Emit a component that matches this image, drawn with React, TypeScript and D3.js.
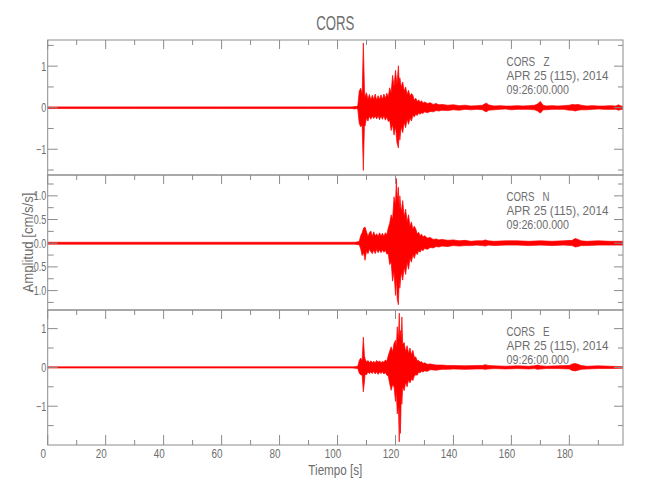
import React from "react";
import * as d3 from "d3";

// ---------- data ----------
// each entry: [time (s), upper envelope, lower envelope] in cm/s/s
const zTrace: [number, number, number][] = [
  [0, 0.02, -0.02], [30, 0.02, -0.02], [60, 0.02, -0.02], [90, 0.02, -0.02], [105, 0.02, -0.02],
  [106, 0.03, -0.03], [106.5, 0.03, -0.02], [107, 0.05, -0.04], [107.5, 0.4, -0.38], [108, 0.47, -0.46],
  [108.5, 0.33, -0.42], [108.9, 1.56, -1.51], [109.3, 0.44, -0.4], [109.5, 0.26, -0.44], [110, 0.36, -0.24],
  [110.5, 0.2, -0.32], [111, 0.32, -0.2], [111.5, 0.19, -0.28], [112, 0.3, -0.2], [112.5, 0.2, -0.26],
  [113, 0.33, -0.2], [113.5, 0.18, -0.27], [114, 0.29, -0.19], [114.5, 0.2, -0.29], [115, 0.31, -0.2],
  [115.5, 0.2, -0.28], [116, 0.33, -0.19], [116.5, 0.22, -0.3], [117, 0.35, -0.22], [117.5, 0.26, -0.33],
  [118, 0.48, -0.3], [118.5, 0.36, -0.55], [119, 0.78, -0.4], [119.5, 0.5, -0.66], [120, 0.9, -0.45],
  [120.5, 0.55, -0.84], [121, 1.01, -0.97], [121.3, 0.6, -0.6], [121.5, 0.72, -0.78], [122, 0.5, -0.45],
  [122.5, 0.62, -0.6], [123, 0.4, -0.35], [123.5, 0.5, -0.48], [124, 0.32, -0.28], [124.5, 0.42, -0.4],
  [125, 0.28, -0.25], [125.5, 0.34, -0.32], [126, 0.3, -0.19], [126.5, 0.18, -0.22], [127, 0.23, -0.16],
  [127.5, 0.15, -0.19], [128, 0.19, -0.13], [128.5, 0.13, -0.16], [129, 0.17, -0.12], [129.5, 0.11, -0.14],
  [130, 0.14, -0.1], [131, 0.1, -0.12], [132, 0.12, -0.09], [133, 0.08, -0.1], [134, 0.1, -0.07],
  [135, 0.07, -0.08], [136, 0.08, -0.06], [138, 0.06, -0.07], [140, 0.07, -0.05], [142, 0.05, -0.06],
  [144, 0.06, -0.04], [146, 0.04, -0.05], [148, 0.05, -0.04], [150, 0.06, -0.05], [151, 0.1, -0.09],
  [151.5, 0.11, -0.1], [152, 0.07, -0.06], [154, 0.04, -0.05], [156, 0.05, -0.04], [158, 0.04, -0.03],
  [160, 0.04, -0.05], [162, 0.05, -0.04], [164, 0.04, -0.04], [166, 0.05, -0.04], [168, 0.06, -0.05],
  [169, 0.09, -0.08], [170, 0.15, -0.13], [170.5, 0.1, -0.09], [171, 0.06, -0.05], [172, 0.04, -0.05],
  [174, 0.05, -0.04], [176, 0.04, -0.04], [178, 0.05, -0.04], [180, 0.06, -0.06], [181, 0.08, -0.06],
  [182, 0.07, -0.08], [183, 0.08, -0.06], [184, 0.06, -0.05], [186, 0.04, -0.05], [188, 0.05, -0.04],
  [190, 0.04, -0.03], [192, 0.04, -0.04], [194, 0.05, -0.04], [196, 0.04, -0.04], [197, 0.07, -0.06],
  [197.5, 0.05, -0.05], [198.5, 0.03, -0.03],
];

const nTrace: [number, number, number][] = [
  [0, 0.02, -0.02], [30, 0.02, -0.02], [60, 0.02, -0.02], [90, 0.02, -0.02], [105, 0.02, -0.02],
  [106, 0.02, -0.02], [107, 0.03, -0.03], [107.5, 0.04, -0.03], [108, 0.16, -0.12], [108.5, 0.22, -0.26],
  [109, 0.32, -0.2], [109.5, 0.34, -0.36], [110, 0.24, -0.16], [110.5, 0.14, -0.22], [111, 0.22, -0.13],
  [111.5, 0.26, -0.18], [112, 0.14, -0.22], [112.5, 0.24, -0.14], [113, 0.15, -0.22], [113.5, 0.2, -0.13],
  [114, 0.14, -0.2], [114.5, 0.22, -0.14], [115, 0.15, -0.2], [115.5, 0.21, -0.14], [116, 0.14, -0.19],
  [116.5, 0.22, -0.15], [117, 0.18, -0.23], [117.5, 0.32, -0.22], [118, 0.42, -0.45], [118.5, 0.6, -0.4],
  [119, 0.5, -0.8], [119.5, 0.98, -0.6], [120, 0.8, -1.1], [120.3, 1.37, -0.7], [120.6, 0.9, -1.18],
  [121, 1.18, -1.3], [121.3, 0.7, -0.75], [121.5, 1.0, -0.95], [122, 0.65, -0.6], [122.5, 0.9, -0.78],
  [123, 0.55, -0.5], [123.5, 0.72, -0.66], [124, 0.45, -0.4], [124.5, 0.6, -0.55], [125, 0.36, -0.32],
  [125.5, 0.45, -0.4], [126, 0.3, -0.24], [126.5, 0.36, -0.32], [127, 0.3, -0.2], [127.5, 0.2, -0.24],
  [128, 0.23, -0.16], [128.5, 0.16, -0.19], [129, 0.19, -0.13], [129.5, 0.13, -0.16], [130, 0.16, -0.11],
  [131, 0.11, -0.13], [132, 0.12, -0.09], [133, 0.08, -0.1], [134, 0.09, -0.07], [135, 0.07, -0.08],
  [136, 0.08, -0.06], [138, 0.06, -0.07], [140, 0.07, -0.05], [142, 0.05, -0.06], [144, 0.06, -0.05],
  [146, 0.04, -0.05], [148, 0.05, -0.04], [150, 0.05, -0.05], [151, 0.07, -0.06], [152, 0.05, -0.04],
  [154, 0.04, -0.05], [158, 0.05, -0.04], [162, 0.05, -0.04], [166, 0.04, -0.05], [170, 0.05, -0.04],
  [174, 0.04, -0.05], [178, 0.05, -0.04], [181, 0.06, -0.05], [182, 0.1, -0.08], [183, 0.08, -0.07],
  [184, 0.05, -0.05], [186, 0.04, -0.05], [190, 0.05, -0.04], [194, 0.04, -0.04], [198.5, 0.04, -0.04],
];

const eTrace: [number, number, number][] = [
  [0, 0.015, -0.015], [30, 0.015, -0.015], [60, 0.015, -0.015], [90, 0.015, -0.015], [105, 0.015, -0.015],
  [106, 0.02, -0.02], [107, 0.03, -0.03], [107.5, 0.18, -0.15], [108, 0.24, -0.19], [108.5, 0.18, -0.2],
  [108.9, 0.78, -0.63], [109.3, 0.3, -0.36], [109.5, 0.22, -0.18], [110, 0.14, -0.19], [110.5, 0.18, -0.12],
  [111, 0.12, -0.16], [111.5, 0.17, -0.11], [112, 0.12, -0.16], [112.5, 0.16, -0.1], [113, 0.12, -0.17],
  [113.5, 0.18, -0.11], [114, 0.13, -0.18], [114.5, 0.17, -0.12], [115, 0.12, -0.16], [115.5, 0.16, -0.11],
  [116, 0.13, -0.17], [116.5, 0.19, -0.13], [117, 0.16, -0.2], [117.5, 0.3, -0.22], [118, 0.42, -0.42],
  [118.5, 0.53, -0.59], [119, 0.4, -0.45], [119.5, 0.62, -0.5], [120, 0.7, -0.88], [120.3, 0.5, -0.6],
  [120.6, 1.05, -1.2], [121, 0.7, -1.0], [121.3, 1.4, -1.92], [121.5, 0.8, -1.0], [121.7, 0.95, -1.7],
  [122, 0.7, -0.7], [122.2, 1.3, -0.95], [122.5, 0.6, -0.5], [123, 0.64, -0.6], [123.5, 0.4, -0.38],
  [124, 0.56, -0.5], [124.5, 0.36, -0.32], [125, 0.5, -0.4], [125.5, 0.32, -0.3], [126, 0.44, -0.34],
  [126.5, 0.26, -0.22], [127, 0.27, -0.19], [127.5, 0.17, -0.2], [128, 0.18, -0.12], [128.5, 0.13, -0.14],
  [129, 0.15, -0.1], [129.5, 0.1, -0.12], [130, 0.12, -0.09], [131, 0.08, -0.1], [132, 0.09, -0.06],
  [134, 0.06, -0.07], [136, 0.06, -0.05], [138, 0.05, -0.05], [140, 0.05, -0.04], [144, 0.04, -0.05],
  [148, 0.05, -0.04], [150, 0.05, -0.04], [151, 0.07, -0.05], [152, 0.05, -0.04], [154, 0.04, -0.03],
  [158, 0.03, -0.04], [162, 0.04, -0.03], [166, 0.03, -0.04], [168, 0.04, -0.03], [169, 0.06, -0.05],
  [170, 0.04, -0.04], [172, 0.03, -0.03], [176, 0.04, -0.03], [180, 0.05, -0.04], [181, 0.09, -0.08],
  [182, 0.1, -0.09], [183, 0.08, -0.07], [184, 0.05, -0.05], [186, 0.03, -0.04], [190, 0.04, -0.03],
  [194, 0.03, -0.03], [198.5, 0.02, -0.02],
];

const componentNames = ["Z", "N", "E"];
const stationName = "CORS";
const dateLine = "APR 25 (115), 2014";
const timeLine = "09:26:00.000";
const xTickValues = [0, 20, 40, 60, 80, 100, 120, 140, 160, 180];
const xMinorValues = [10, 30, 50, 70, 90, 110, 130, 150, 170, 190];
const panelYMajor = [
  [-1, 0, 1],
  [-1.0, -0.5, 0.0, 0.5, 1.0],
  [-1, 0, 1],
];
const panelYMinor = [
  [-1.5, -0.5, 0.5, 1.5],
  [-1.25, -0.75, -0.25, 0.25, 0.75, 1.25],
  [-1.5, -0.5, 0.5],
];
const panelYDomain: [number, number][] = [
  [-1.62, 1.63],
  [-1.41, 1.44],
  [-2.0, 1.48],
];
const xLabel = "Tiempo [s]";
const yLabel = "Amplitud [cm/s/s]";

// ---------- layout ----------
const LEFT = 47.7;
const RIGHT = 623;
const TOP = 40;
const PANEL_H = 135;
const AXIS = "#8c8c8c";
const TEXT = "#6e6e6e";
const FONT = "'Liberation Sans', Arial, sans-serif";

const traces = [zTrace, nTrace, eTrace];

type CTProps = {
  x: number;
  y: number;
  size: number;
  sx?: number;
  anchor?: "start" | "middle" | "end";
  rotate?: number;
  length?: number;
  children: React.ReactNode;
};

function CText({ x, y, size, sx = 0.75, anchor = "start", rotate = 0, length, children }: CTProps) {
  const tf = `translate(${x},${y})${rotate ? ` rotate(${rotate})` : ""}${length ? "" : ` scale(${sx},1)`}`;
  return (
    <text
      transform={tf}
      textAnchor={anchor}
      fontFamily={FONT}
      fontSize={size}
      fill={TEXT}
      style={{ whiteSpace: "pre" }}
      {...(length ? { textLength: length, lengthAdjust: "spacingAndGlyphs" } : {})}
    >
      {children}
    </text>
  );
}

export default function App() {
  const x = d3.scaleLinear().domain([0, 198.5]).range([LEFT, RIGHT]);
  const fmt2 = (v: number) => (v < 0 ? "\u2212" : "") + Math.abs(v).toFixed(1);
  const fmt1 = (v: number) => (v < 0 ? "\u2212" : "") + Math.abs(v).toFixed(0);
  const bottomY = TOP + 3 * PANEL_H;

  return (
    <svg width={650} height={500} style={{ display: "block", position: "absolute", left: 0, top: 0 }}>
      <rect x={0} y={0} width={650} height={500} fill="#fff" />
      <CText x={(LEFT + RIGHT) / 2} y={30} size={20} anchor="middle" sx={0.66}>
        {stationName}
      </CText>
      {traces.map((tr, i) => {
        const top = TOP + i * PANEL_H;
        const bottom = top + PANEL_H;
        const y = d3.scaleLinear().domain(panelYDomain[i]).range([bottom, top]);
        const area = d3
          .area<[number, number, number]>()
          .x((d) => x(d[0]))
          .y0((d) => y(d[2]))
          .y1((d) => y(d[1]));
        const fmt = i === 1 ? fmt2 : fmt1;
        return (
          <g key={i}>
            <defs>
              <clipPath id={`clip${i}`}>
                <rect x={LEFT} y={top} width={RIGHT - LEFT} height={PANEL_H} />
              </clipPath>
            </defs>
            <path
              d={area(tr) || ""}
              fill="#ff0000"
              stroke="#ff0000"
              strokeWidth={0.7}
              strokeLinejoin="miter"
              clipPath={`url(#clip${i})`}
            />
            <rect x={LEFT} y={top} width={RIGHT - LEFT} height={PANEL_H} fill="none" stroke={AXIS} strokeWidth={1} />
            {xTickValues.concat(xMinorValues).map((v) => (
              <line
                key={`t${v}`}
                x1={x(v)}
                x2={x(v)}
                y1={top}
                y2={top + (v % 20 === 0 ? 9 : 5)}
                stroke={AXIS}
              />
            ))}
            {panelYMajor[i].map((v) => (
              <g key={`ym${v}`}>
                <line x1={LEFT} x2={LEFT + 10} y1={y(v)} y2={y(v)} stroke={AXIS} />
                <line x1={RIGHT} x2={RIGHT - 9} y1={y(v)} y2={y(v)} stroke={AXIS} />
                <CText x={LEFT - 1.5} y={y(v) + 4.5} size={12.5} anchor="end" sx={0.72}>
                  {fmt(v)}
                </CText>
              </g>
            ))}
            {panelYMinor[i].map((v) => (
              <g key={`yn${v}`}>
                <line x1={LEFT} x2={LEFT + 6} y1={y(v)} y2={y(v)} stroke={AXIS} />
                <line x1={RIGHT} x2={RIGHT - 5} y1={y(v)} y2={y(v)} stroke={AXIS} />
              </g>
            ))}
            <CText x={506.5} y={top + 26} size={13.3} length={43}>
              {`${stationName}   ${componentNames[i]}`}
            </CText>
            <CText x={506.5} y={top + 40} size={13.3} length={102}>
              {dateLine}
            </CText>
            <CText x={506.5} y={top + 54} size={13.3} length={62.5}>
              {timeLine}
            </CText>
          </g>
        );
      })}
      {xTickValues.concat(xMinorValues).map((v) => (
        <line
          key={`b${v}`}
          x1={x(v)}
          x2={x(v)}
          y1={bottomY}
          y2={bottomY - (v % 20 === 0 ? 10 : 5)}
          stroke={AXIS}
        />
      ))}
      {xTickValues.map((v) => (
        <CText key={`xl${v}`} x={x(v) - 4.5} y={bottomY + 13} size={13} anchor="middle" sx={0.76}>
          {String(v)}
        </CText>
      ))}
      <CText x={(LEFT + RIGHT) / 2} y={bottomY + 30} size={14} anchor="middle" length={54}>
        {xLabel}
      </CText>
      <CText x={33} y={TOP + 1.5 * PANEL_H} size={14} anchor="middle" rotate={-90} length={100}>
        {yLabel}
      </CText>
    </svg>
  );
}
